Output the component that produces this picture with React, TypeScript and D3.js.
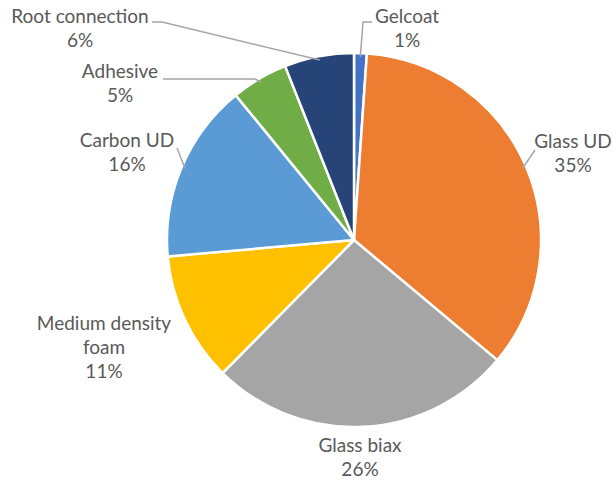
import React from "react";
import * as d3 from "d3";

const categories = ["Gelcoat", "Glass UD", "Glass biax", "Medium density foam", "Carbon UD", "Adhesive", "Root connection"];
const values = [1.1, 35.0, 26.3, 11.2, 15.5, 4.9, 6.0];
const pctLabels = ["1%", "35%", "26%", "11%", "16%", "5%", "6%"];
const colors = ["#4472C4", "#ED7D31", "#A5A5A5", "#FFC000", "#5B9BD5", "#70AD47", "#264478"];

// label layout: center x, first baseline y, text lines, leader start points (outside -> toward slice)
const labelLayout = [
  { x: 407, y: 23, lines: ["Gelcoat"], leader: [[372, 22], [363, 22]] },
  { x: 573, y: 148, lines: ["Glass UD"], leader: [[535, 150]] },
  { x: 360, y: 452, lines: ["Glass biax"], leader: null },
  { x: 104, y: 330, lines: ["Medium density", "foam"], leader: null },
  { x: 127, y: 147, lines: ["Carbon UD"], leader: [[177, 148]] },
  { x: 120, y: 78, lines: ["Adhesive"], leader: [[163, 79], [255, 79]] },
  { x: 80, y: 23, lines: ["Root connection"], leader: [[152, 22], [162, 22]] },
];

const W = 613;
const H = 481;
const cx = 354;
const cy = 240;
const R = 187;
const lineH = 24;

export default function App() {
  const pie = d3.pie<number>().sort(null).value((d) => d)(values);
  const arc = d3.arc<d3.PieArcDatum<number>>().innerRadius(0).outerRadius(R);

  return (
    <svg width={W} height={H} style={{ position: "absolute", left: 0, top: 0, background: "#fff" }}>
      <g transform={`translate(${cx},${cy})`}>
        {pie.map((p, i) => (
          <path key={i} d={arc(p) || ""} fill={colors[i]} stroke="#fff" strokeWidth={2.5} strokeLinejoin="round" />
        ))}
      </g>
      {pie.map((p, i) => {
        const L = labelLayout[i];
        if (!L.leader) return null;
        const mid = (p.startAngle + p.endAngle) / 2;
        const ex = cx + R * 0.98 * Math.sin(mid);
        const ey = cy - R * 0.98 * Math.cos(mid);
        const pts = [...L.leader, [ex, ey]];
        return (
          <polyline
            key={"l" + i}
            points={pts.map((q) => q.join(",")).join(" ")}
            fill="none"
            stroke="#A6A6A6"
            strokeWidth={1.5}
          />
        );
      })}
      {labelLayout.map((L, i) => (
        <text
          key={"t" + i}
          x={L.x}
          y={L.y}
          textAnchor="middle"
          fill="#595959"
          fontFamily="Lato, 'Open Sans', sans-serif"
          fontSize={19}
        >
          {[...L.lines, pctLabels[i]].map((s, j) => (
            <tspan key={j} x={L.x} y={L.y + j * lineH}>
              {s}
            </tspan>
          ))}
        </text>
      ))}
    </svg>
  );
}
